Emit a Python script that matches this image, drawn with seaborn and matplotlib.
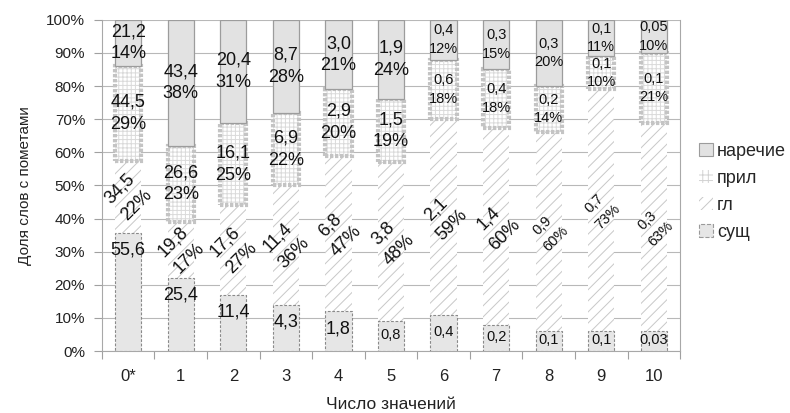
import numpy as np
import pandas as pd
import matplotlib
matplotlib.use("Agg")
import matplotlib.pyplot as plt
from matplotlib.patches import Patch
from matplotlib.ticker import FixedLocator
import seaborn as sns

# ---------------- data ----------------
categories = ['0*', '1', '2', '3', '4', '5', '6', '7', '8', '9', '10']
series_names = ['сущ', 'гл', 'прил', 'наречие']

# absolute values shown in labels
sushch_vals = [55.6, 25.4, 11.4, 4.3, 1.8, 0.8, 0.4, 0.2, 0.1, 0.1, 0.03]
gl_vals = [34.5, 19.8, 17.6, 11.4, 6.8, 3.8, 2.1, 1.4, 0.9, 0.7, 0.3]
pril_vals = [44.5, 26.6, 16.1, 6.9, 2.9, 1.5, 0.6, 0.4, 0.2, 0.1, 0.1]
nar_vals = [21.2, 43.4, 20.4, 8.7, 3.0, 1.9, 0.4, 0.3, 0.3, 0.1, 0.05]

# shares within each category (%)
sushch_pct = [36, 22, 17, 14, 12, 9, 11, 8, 6, 6, 6]
gl_pct = [22, 17, 27, 36, 47, 48, 59, 60, 60, 73, 63]
pril_pct = [29, 23, 25, 22, 20, 19, 18, 18, 14, 10, 21]
nar_pct = [14, 38, 31, 28, 21, 24, 12, 15, 20, 11, 10]

y_ticks = [0, 10, 20, 30, 40, 50, 60, 70, 80, 90, 100]

# ---------------- style ----------------
sns.set_style("white")
plt.rcParams['font.family'] = ['Liberation Sans', 'DejaVu Sans']
plt.rcParams['hatch.linewidth'] = 0.7

fig = plt.figure(figsize=(7.9, 4.13), dpi=100)
ax = fig.add_axes([0.129, 0.150, 0.732, 0.802])

pct = np.array([sushch_pct, gl_pct, pril_pct, nar_pct], dtype=float)
heights = pct / pct.sum(axis=0) * 100.0
bottoms = np.vstack([np.zeros(len(categories)), np.cumsum(heights, axis=0)[:-1]])

df = pd.DataFrame({'cat': categories})
for i, name in enumerate(series_names):
    df[name] = heights[i]

BW = 0.5
common = dict(data=df, x='cat', order=categories, width=BW, errorbar=None,
              saturation=1, ax=ax)

# сущ
sns.barplot(y='сущ', color='#e6e6e6', edgecolor='#8a8a8a', linewidth=0.8,
            linestyle=(0, (2.5, 1.5)), bottom=bottoms[0], zorder=3, **common)
# гл (hatched)
sns.barplot(y='гл', color='white', edgecolor='#c8c8c8', linewidth=0,
            hatch='///', bottom=bottoms[1], zorder=2, **common)
# прил (grid) fill
sns.barplot(y='прил', color='white', edgecolor='#dadada', linewidth=0,
            hatch='++++', bottom=bottoms[2], zorder=2, **common)
# прил thick dashed frame
sns.barplot(y='прил', color='#c4c4c4', fill=False, linewidth=3,
            linestyle=(0, (0.8, 0.4)), bottom=bottoms[2], zorder=2.5, **common)
# наречие
sns.barplot(y='наречие', color='#e2e2e2', edgecolor='#9c9c9c', linewidth=0.9,
            bottom=bottoms[3], zorder=3, **common)

# ---------------- labels ----------------
def fmt(v):
    s = '{:.2f}'.format(v) if v < 0.1 else '{:.1f}'.format(v)
    return s.replace('.', ',')

BIG, SMALL = 13, 10.5
n = len(categories)
for j in range(n):
    # сущ
    top = heights[0, j]
    fs = BIG if j <= 4 else SMALL
    ylab = max(top - 5.2, top / 2 + 0.3)
    ax.text(j, ylab, fmt(sushch_vals[j]), ha='center', va='center',
            fontsize=fs, color='#111111', zorder=5)
    # гл (rotated)
    fs = BIG if j <= 7 else SMALL
    ymid = bottoms[1, j] + heights[1, j] / 2
    ax.text(j, ymid, f"{fmt(gl_vals[j])}\n{gl_pct[j]}%", ha='center', va='center',
            rotation=45, rotation_mode='anchor', multialignment='center',
            linespacing=1.45, fontsize=fs, color='#111111', zorder=5)
    # прил
    fs = BIG if j <= 5 else SMALL
    ymid = bottoms[2, j] + heights[2, j] / 2
    ax.text(j, ymid, f"{fmt(pril_vals[j])}\n{pril_pct[j]}%", ha='center', va='center',
            linespacing=1.4, fontsize=fs, color='#111111', zorder=5)
    # наречие
    ymid = bottoms[3, j] + heights[3, j] / 2
    ax.text(j, ymid, f"{fmt(nar_vals[j])}\n{nar_pct[j]}%", ha='center', va='center',
            linespacing=1.4, fontsize=fs, color='#111111', zorder=5)

# ---------------- axes ----------------
ax.set_xlim(-0.5, n - 0.5)
ax.set_ylim(0, 100)
ax.yaxis.set_major_locator(FixedLocator(y_ticks))
ax.set_yticklabels([f"{t}%" for t in y_ticks])
ax.grid(axis='y', color='#b8b8b8', linewidth=0.8, zorder=0)
ax.grid(axis='x', visible=False)
ax.set_axisbelow(True)

ax.xaxis.set_minor_locator(FixedLocator(np.arange(-0.5, n, 1.0)))
ax.tick_params(axis='x', which='major', length=0, pad=13, labelsize=12, colors='#222222')
ax.tick_params(axis='x', which='minor', length=6, width=0.8, color='#a0a0a0', direction='out')
ax.tick_params(axis='y', length=6, width=0.8, color='#a0a0a0', direction='out',
               labelsize=11, labelcolor='#222222', pad=6)
ax.yaxis.set_ticks_position('left')
ax.xaxis.set_ticks_position('bottom')

for side in ['left', 'bottom', 'right']:
    ax.spines[side].set_visible(True)
    ax.spines[side].set_color('#a8a8a8')
    ax.spines[side].set_linewidth(0.8)
ax.spines['top'].set_visible(False)

ax.set_xlabel('Число значений', fontsize=12.5, color='#222222', labelpad=9)
ax.set_ylabel('Доля слов с пометами', fontsize=11, color='#222222', labelpad=10)

# ---------------- legend ----------------
handles = [
    Patch(facecolor='#e2e2e2', edgecolor='#9c9c9c', linewidth=0.8, label='наречие'),
    Patch(facecolor='white', edgecolor='#d2d2d2', linewidth=0, hatch='+++', label='прил'),
    Patch(facecolor='white', edgecolor='#c8c8c8', linewidth=0, hatch='///', label='гл'),
    Patch(facecolor='#e6e6e6', edgecolor='#9a9a9a', linewidth=0.8, linestyle='--', label='сущ'),
]
fig.legend(handles=handles, loc='center left', bbox_to_anchor=(0.885, 0.536),
           frameon=False, fontsize=13, handlelength=0.75, handleheight=0.75,
           handletextpad=0.25, labelspacing=0.55, borderaxespad=0, borderpad=0)

fig.savefig('out.png', dpi=100)
